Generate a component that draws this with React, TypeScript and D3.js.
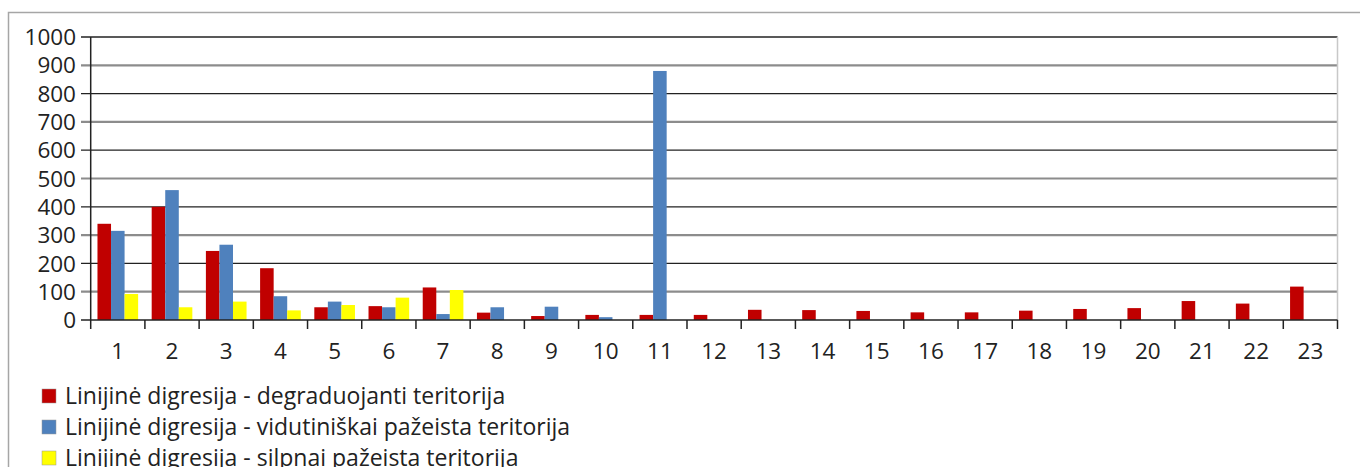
import React from "react";
import * as d3 from "d3";

const categories = Array.from({ length: 23 }, (_, i) => String(i + 1));
const seriesNames = [
  "Linijinė digresija - degraduojanti teritorija",
  "Linijinė digresija - vidutiniškai pažeista teritorija",
  "Linijinė digresija - silpnai pažeista teritorija",
];
const degraduojanti = [340, 400, 244, 183, 45, 49, 115, 26, 14, 18, 18, 18, 36, 35, 32, 27, 27, 33, 39, 42, 67, 58, 118];
const vidutiniskai = [315, 459, 266, 84, 65, 45, 21, 45, 47, 10, 880, 0, 0, 0, 0, 0, 0, 0, 0, 0, 0, 0, 0];
const silpnai = [92, 45, 65, 34, 53, 79, 106, 0, 0, 0, 0, 0, 0, 0, 0, 0, 0, 0, 0, 0, 0, 0, 0];
const yTicks = [0, 100, 200, 300, 400, 500, 600, 700, 800, 900, 1000];
const colors = ["#C00000", "#4F81BD", "#FFFF00"];

export default function App() {
  const W = 1360, H = 467;
  const left = 90.7, right = 1337.5, top = 37, bottom = 320;
  const x = d3.scaleBand<string>().domain(categories).range([left, right]).paddingInner(0).paddingOuter(0);
  const y = d3.scaleLinear().domain([0, 1000]).range([bottom, top]);
  const inner = d3.scaleBand<number>().domain([0, 1, 2]).range([0, x.bandwidth()]).paddingInner(0).paddingOuter(0.5);
  const series = [degraduojanti, vidutiniskai, silpnai];
  const font = "'Open Sans', 'Noto Sans', sans-serif";
  return (
    <svg width={W} height={H} style={{ position: "absolute", left: 0, top: 0 }}>
      <rect x={0} y={0} width={W} height={H} fill="#fff" />
      <path d={`M8.5,${H + 5} V12.5 H${W + 5}`} fill="none" stroke="#a6a6a6" strokeWidth={1.5} />
      {yTicks.filter((t) => t > 0).map((t) => (
        <line key={t} x1={81} x2={right} y1={y(t)} y2={y(t)}
          stroke={t % 200 === 0 ? "#222" : "#8c8c8c"} strokeWidth={t % 200 === 0 ? 1.3 : 2.2} />
      ))}
      <line x1={right} x2={right} y1={top} y2={bottom} stroke="#c8c8c8" strokeWidth={1.5} />
      {series.map((vals, si) =>
        vals.map((v, i) =>
          v > 0 ? (
            <rect key={`${si}-${i}`} x={(x(categories[i]) as number) + (inner(si) as number)}
              y={y(v)} width={inner.bandwidth()} height={y(0) - y(v)} fill={colors[si]} />
          ) : null
        )
      )}
      <line x1={left} x2={left} y1={top} y2={bottom + 9} stroke="#222" strokeWidth={1.5} />
      <line x1={81} x2={right} y1={bottom} y2={bottom} stroke="#222" strokeWidth={1.5} />
      {categories.map((c) => (
        <line key={c} x1={(x(c) as number) + x.bandwidth()} x2={(x(c) as number) + x.bandwidth()}
          y1={bottom} y2={bottom + 9} stroke="#222" strokeWidth={1.5} />
      ))}
      {yTicks.map((t) => (
        <text key={t} x={76} y={y(t)} dy="0.36em" textAnchor="end" fontFamily={font} fontSize={22.5} fill="#222">{t}</text>
      ))}
      {categories.map((c) => (
        <text key={c} x={(x(c) as number) + x.bandwidth() / 2} y={351} dy="0.36em" textAnchor="middle"
          fontFamily={font} fontSize={22.5} fill="#222">{c}</text>
      ))}
      {seriesNames.map((n, i) => (
        <g key={n} transform={`translate(42,${396 + i * 31})`}>
          <rect x={0} y={-7} width={14} height={14} fill={colors[i]} stroke="#999" strokeWidth={0.5} />
          <text x={23} y={0} dy="0.36em" fontFamily={font} fontSize={23} fill="#222">{n}</text>
        </g>
      ))}
    </svg>
  );
}
